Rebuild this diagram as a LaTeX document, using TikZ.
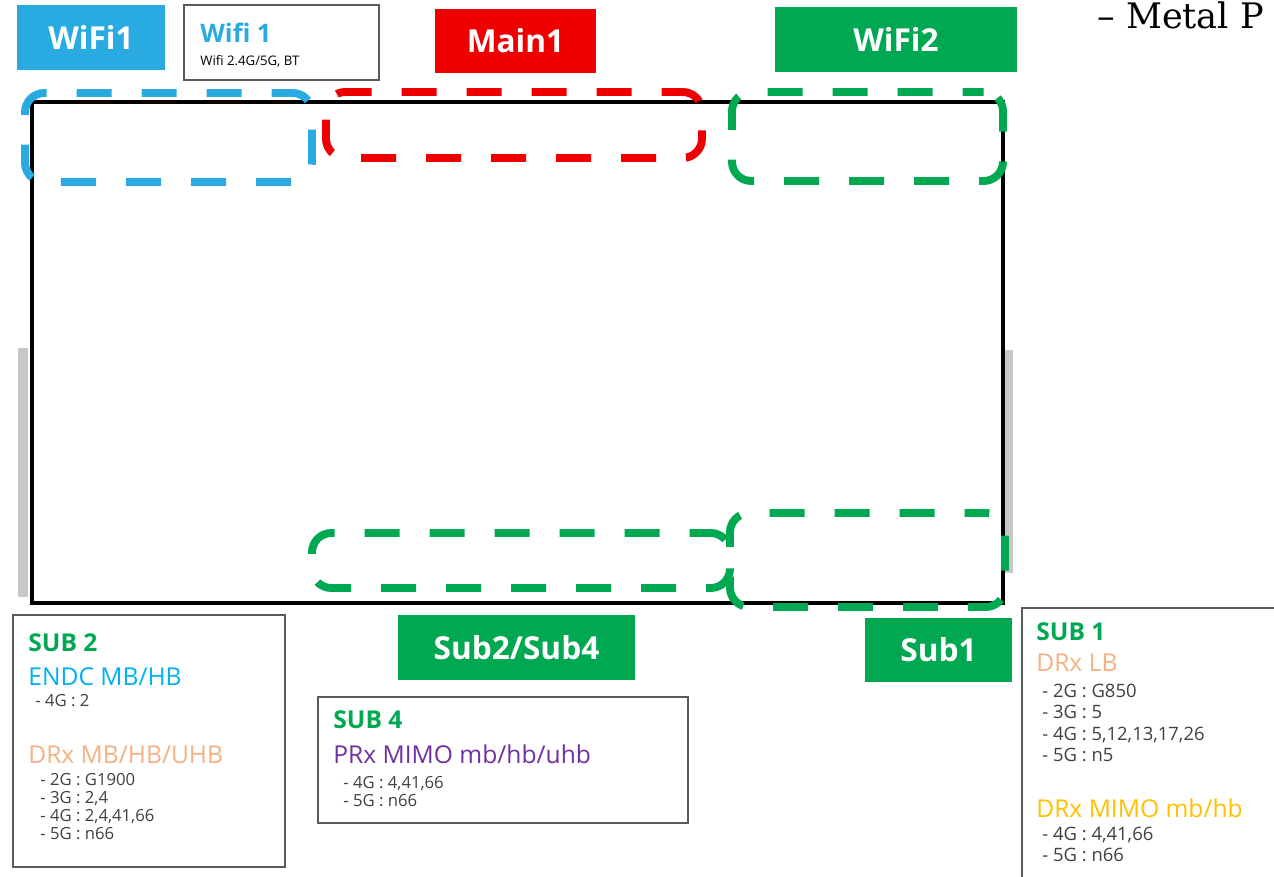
\documentclass[tikz,border=0pt]{standalone}
\usepackage{fontspec}
\setmainfont{Open Sans}
\newfontfamily\metalfont{DejaVu Serif}
\definecolor{wifiblue}{RGB}{41,171,226}
\definecolor{mainred}{RGB}{238,0,0}
\definecolor{subgreen}{RGB}{0,168,82}
\definecolor{endcblue}{RGB}{0,176,240}
\definecolor{drxorange}{RGB}{244,177,131}
\definecolor{prxpurple}{RGB}{112,48,160}
\definecolor{mimoyellow}{RGB}{255,192,0}
\definecolor{boxgray}{RGB}{90,90,90}
\tikzstyle{tag}=[rectangle,text=white,inner sep=0pt,font=\fontsize{18}{21}\selectfont\bfseries]
\tikzstyle{zone}=[rectangle,rounded corners=11pt,line width=4.5pt,dash pattern=on 20pt off 17pt,dash phase=8pt,inner sep=0pt]
\tikzstyle{infobox}=[rectangle,draw=boxgray,line width=0.8pt,inner sep=0pt]
\tikzstyle{head}=[inner sep=0pt,anchor=base west,font=\fontsize{14}{17}\selectfont]
\tikzstyle{detail}=[inner sep=0pt,anchor=base west,text=black!75,font=\fontsize{9.5}{12}\selectfont]

\begin{document}
\begin{tikzpicture}[x=0.02cm,y=-0.02cm]
    \useasboundingbox (0,0) rectangle (1274,876);
    % side strips of the phone body
    \fill[black!22] (18,348) rectangle (28,597);
    \fill[black!22] (1005,350) rectangle (1013,573);
    % the metal frame
    \node[draw,line width=2.3pt,minimum width=971*0.02cm,minimum height=501*0.02cm,inner sep=0pt] (frame) at (517.5,352.5) {};

    % antenna zones
    \foreach \pos/\w/\h/\col/\name in {{(168.5,137.5)/287/89/wifiblue/zoneWifiA}, {(514,125)/376/66/mainred/zoneMain},
        {(867.5,136.5)/271/89/subgreen/zoneWifiB}, {(521,560.5)/418/55/subgreen/zoneSubB}, {(867.5,560)/275/94/subgreen/zoneSubA}}
        \node[zone,draw=\col,minimum width=\w*0.02cm,minimum height=\h*0.02cm] (\name) at \pos {};

    % coloured tags
    \foreach \pos/\w/\h/\col/\name/\txt in {{(91,37.5)/148/65/wifiblue/tagWifiA/WiFi1}, {(515.5,41)/161/64/mainred/tagMain/Main1},
        {(896,39.5)/242/65/subgreen/tagWifiB/WiFi2}, {(516.5,647.5)/237/65/subgreen/tagSubB/{Sub2/Sub4}},
        {(938.5,650)/147/64/subgreen/tagSubA/Sub1}}
        \node[tag,fill=\col,minimum width=\w*0.02cm,minimum height=\h*0.02cm] (\name) at \pos {\txt};

    % wifi note
    \node[infobox,minimum width=195*0.02cm,minimum height=75*0.02cm] (wifibox) at (281.5,42.5) {};
    \node[head,text=wifiblue,font=\fontsize{14.5}{17}\selectfont\bfseries] (wifihead) at (200,42) {Wifi 1};
    \node[detail,text=black,font=\fontsize{7.5}{9}\selectfont] (wifiband) at (200,65) {Wifi 2.4G/5G, BT};

    \node[anchor=base west,inner sep=0pt,font=\metalfont\fontsize{20}{22}\selectfont] (metal) at (1097,28) {– Metal P};

    % SUB 2 box
    \node[infobox,minimum width=272*0.02cm,minimum height=252*0.02cm] (subBbox) at (149,741) {};
    \node[head,text=subgreen,font=\fontsize{14}{17}\selectfont\bfseries] (subBhead) at (28,651) {SUB 2};
    \node[head,text=endcblue] (subBendc) at (28,685) {ENDC MB/HB};
    \node[detail] (subBendcA) at (35,706) {- 4G : 2};
    \node[head,text=drxorange] (subBdrx) at (28,763) {DRx MB/HB/UHB};
    \foreach \y/\txt [count=\i] in {785/{- 2G : G1900}, 803/{- 3G : 2,4}, 821/{- 4G : 2,4,41,66}, 839/{- 5G : n66}}
        \node[detail] (subBdrx\i) at (40,\y) {\txt};

    % SUB 4 box
    \node[infobox,minimum width=370*0.02cm,minimum height=126*0.02cm] (subDbox) at (503,760) {};
    \node[head,text=subgreen,font=\fontsize{14}{17}\selectfont\bfseries] (subDhead) at (333,728) {SUB 4};
    \node[head,text=prxpurple] (subDprx) at (333,763) {PRx MIMO mb/hb/uhb};
    \foreach \y/\txt [count=\i] in {788/{- 4G : 4,41,66}, 806/{- 5G : n66}}
        \node[detail] (subDprx\i) at (343,\y) {\txt};

    % SUB 1 box
    \node[infobox,minimum width=268*0.02cm,minimum height=282*0.02cm] (subAbox) at (1156,749) {};
    \node[head,text=subgreen,font=\fontsize{14}{17}\selectfont\bfseries] (subAhead) at (1036,640) {SUB 1};
    \node[head,text=drxorange] (subAlb) at (1036,671) {DRx LB};
    \foreach \y/\txt [count=\i] in {697/{- 2G : G850}, 718/{- 3G : 5}, 740/{- 4G : 5,12,13,17,26}, 761/{- 5G : n5}}
        \node[detail,font=\fontsize{10.5}{13}\selectfont] (subAlb\i) at (1042,\y) {\txt};
    \node[head,text=mimoyellow] (subAmimo) at (1036,817) {DRx MIMO mb/hb};
    \foreach \y/\txt [count=\i] in {840/{- 4G : 4,41,66}, 861/{- 5G : n66}}
        \node[detail,font=\fontsize{10.5}{13}\selectfont] (subAmimo\i) at (1042,\y) {\txt};
\end{tikzpicture}
\end{document}
